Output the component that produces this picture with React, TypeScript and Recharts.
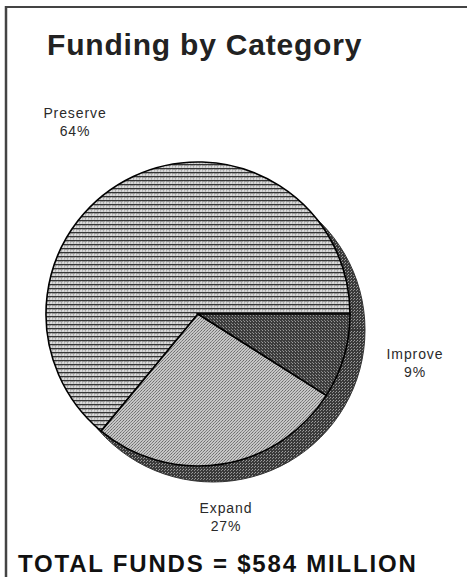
import { PieChart, Pie, Cell } from "recharts";

const categories = ["Preserve", "Expand", "Improve"];
const shares = [64, 27, 9];
const totalFunds = 584;

const data = categories.map((name, i) => ({ name, value: shares[i] }));
const shadowData = [{ name: "shadow", value: shares.reduce((a, b) => a + b, 0) }];

const fills = ["url(#preserveLines)", "url(#expandDots)", "url(#improveDots)"];

// where each label's first line sits, relative to the pie centre
const labelOffset: Record<string, [number, number]> = {
  Preserve: [-123, -196],
  Expand: [28, 199],
  Improve: [217, 45],
};

const font = '"Liberation Sans", Arial, Helvetica, sans-serif';

function renderLabel(props: any) {
  const { cx, cy, name, percent } = props;
  const [dx, dy] = labelOffset[name] || [0, 0];
  const x = cx + dx;
  const y = cy + dy;
  return (
    <text
      x={x}
      y={y}
      textAnchor="middle"
      fontFamily={font}
      fontSize={14}
      letterSpacing={0.9}
      fill="#2a2a2a"
    >
      <tspan x={x} dy={0}>{name}</tspan>
      <tspan x={x} dy={18}>{`${Math.round(percent * 100)}%`}</tspan>
    </text>
  );
}

export default function App() {
  return (
    <div style={{ position: "absolute", left: 0, top: 0, width: 467, height: 577, background: "#fff" }}>
      <PieChart width={467} height={577} margin={{ top: 0, right: 0, bottom: 0, left: 0 }}>
        <defs>
          <pattern id="preserveLines" width="6" height="4" patternUnits="userSpaceOnUse">
            <rect width="6" height="4" fill="#d6d6d6" />
            <rect y="0" width="6" height="1.4" fill="#333" />
            <rect x="1" y="2.4" width="1" height="1" fill="#8a8a8a" />
            <rect x="4" y="2.4" width="1" height="1" fill="#a0a0a0" />
            <rect x="3" y="1.6" width="1" height="0.8" fill="#f2f2f2" />
          </pattern>
          <pattern id="expandDots" width="3" height="3" patternUnits="userSpaceOnUse">
            <rect width="3" height="3" fill="#c6c6c6" />
            <rect x="0" y="0" width="1" height="1" fill="#6e6e6e" />
            <rect x="2" y="1" width="1" height="1" fill="#7a7a7a" />
            <rect x="1" y="2" width="1" height="1" fill="#8a8a8a" />
          </pattern>
          <pattern id="improveDots" width="3" height="3" patternUnits="userSpaceOnUse">
            <rect width="3" height="3" fill="#3c3c3c" />
            <rect x="1" y="0" width="1" height="1" fill="#9a9a9a" />
            <rect x="0" y="2" width="1" height="1" fill="#808080" />
          </pattern>
          <pattern id="shadowDots" width="3" height="3" patternUnits="userSpaceOnUse">
            <rect width="3" height="3" fill="#3a3a3a" />
            <rect x="0" y="1" width="1" height="1" fill="#a0a0a0" />
            <rect x="2" y="2" width="1" height="1" fill="#8c8c8c" />
          </pattern>
        </defs>
        <Pie
          data={shadowData}
          dataKey="value"
          cx={213}
          cy={330}
          outerRadius={152}
          startAngle={0}
          endAngle={360}
          stroke="#333"
          strokeWidth={1}
          fill="url(#shadowDots)"
          isAnimationActive={false}
        />
        <Pie
          data={data}
          dataKey="value"
          nameKey="name"
          cx={198}
          cy={314}
          outerRadius={152}
          startAngle={0}
          endAngle={360}
          stroke="#000"
          strokeWidth={1.6}
          label={renderLabel}
          labelLine={false}
          isAnimationActive={false}
        >
          {data.map((d, i) => (
            <Cell key={d.name} fill={fills[i]} />
          ))}
        </Pie>
      </PieChart>
      <svg
        width={467}
        height={577}
        style={{ position: "absolute", left: 0, top: 0, pointerEvents: "none" }}
      >
        <line x1={6} y1={7} x2={467} y2={7} stroke="#444" strokeWidth={2} />
        <line x1={6} y1={6} x2={6} y2={577} stroke="#444" strokeWidth={2.5} />
        <text x={47} y={55} fontFamily={font} fontWeight="bold" fontSize={30} letterSpacing={0.8} fill="#222">
          Funding by Category
        </text>
        <text x={18} y={572} fontFamily={font} fontWeight="bold" fontSize={24} letterSpacing={1.8} fill="#111">
          {`TOTAL FUNDS = $${totalFunds} MILLION`}
        </text>
      </svg>
    </div>
  );
}
